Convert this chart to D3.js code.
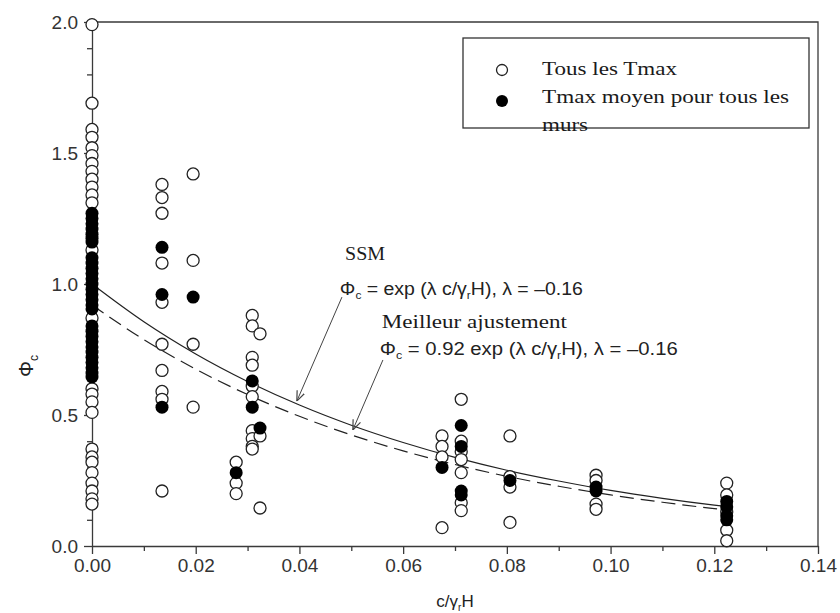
<!DOCTYPE html>
<html>
<head>
<meta charset="utf-8">
<script src="https://cdn.jsdelivr.net/npm/d3@7"></script>
<style>
  body { margin: 0; background: #fff; }
  svg { display: block; }
</style>
</head>
<body>
<div id="chart"></div>
<script>
// -------- data ------------------------------ //

// x position (c/γrH) of each group of walls
var columns = [0, 0.0135, 0.0195, 0.0278, 0.0309, 0.0324, 0.0675, 0.0712, 0.0806, 0.0972, 0.1224];

// all Tmax values (open circles), one list per column
var openValues = [
  [1.99, 1.69, 1.59, 1.56, 1.52, 1.49, 1.46, 1.43, 1.40, 1.37, 1.34, 1.31, 1.13, 0.87,
   0.60, 0.58, 0.55, 0.51, 0.37, 0.34, 0.32, 0.28, 0.24, 0.21, 0.18, 0.16],
  [1.38, 1.33, 1.27, 1.08, 0.93, 0.77, 0.67, 0.59, 0.56, 0.21],
  [1.42, 1.09, 0.77, 0.53],
  [0.32, 0.24, 0.20],
  [0.88, 0.84, 0.72, 0.69, 0.61, 0.57, 0.44, 0.41, 0.38, 0.37],
  [0.81, 0.42, 0.145],
  [0.42, 0.38, 0.34, 0.07],
  [0.56, 0.40, 0.36, 0.33, 0.28, 0.165, 0.135],
  [0.42, 0.265, 0.225, 0.09],
  [0.27, 0.25, 0.16, 0.14],
  [0.24, 0.195, 0.13, 0.06, 0.02]
];

// mean Tmax for each wall (filled circles)
var meanValues = [
  [1.27, 1.25, 1.23, 1.21, 1.19, 1.175, 1.16, 1.10, 1.08, 1.06, 1.04, 1.02, 1.00, 0.98,
   0.96, 0.94, 0.92, 0.905, 0.84, 0.82, 0.80, 0.78, 0.76, 0.74, 0.72, 0.70, 0.68, 0.66, 0.645],
  [1.14, 0.96, 0.53],
  [0.95],
  [0.28],
  [0.63, 0.53],
  [0.45],
  [0.30],
  [0.46, 0.38, 0.21, 0.195],
  [0.25],
  [0.225, 0.21],
  [0.17, 0.15, 0.115, 0.10]
];

// the two curves, read at regular steps of c/γrH
var curveX = [0, 0.01, 0.02, 0.03, 0.04, 0.05, 0.06, 0.07, 0.08, 0.09, 0.10, 0.11, 0.12, 0.123];
var ssmY = [1.00, 0.856, 0.733, 0.628, 0.538, 0.461, 0.395, 0.338, 0.289, 0.248, 0.212, 0.182, 0.156, 0.149];
var fitY = [0.92, 0.788, 0.675, 0.578, 0.495, 0.424, 0.363, 0.311, 0.266, 0.228, 0.195, 0.167, 0.143, 0.137];

var xTicks = [0, 0.02, 0.04, 0.06, 0.08, 0.10, 0.12, 0.14];
var yTicks = [0, 0.5, 1.0, 1.5, 2.0];

// -------- chart ---------- //

var margin = { top: 22, right: 22, bottom: 67, left: 92 };
var width = 840 - margin.left - margin.right;
var height = 613 - margin.top - margin.bottom;

var axisColor = "#3a3a3a";
var serif = "'Liberation Serif', 'Times New Roman', serif";
var sans = "'Liberation Sans', Arial, sans-serif";

var svg = d3
  .select("#chart")
  .append("svg")
  .attr("width", 840)
  .attr("height", 613);

var g = svg.append("g").attr("transform", "translate(" + margin.left + "," + margin.top + ")");

var x = d3.scaleLinear().domain([0, 0.14]).range([0, width]);
var y = d3.scaleLinear().domain([0, 2]).range([height, 0]);

// minor ticks first, so major ones sit on top
var xMinor = d3.range(0.01, 0.14, 0.02);
var yMinor = d3.range(0, 2.0001, 0.1).filter(function(v) {
  return Math.abs(v * 2 - Math.round(v * 2)) > 1e-6;
});

function styleAxis(sel) {
  sel.selectAll("path, line").attr("stroke", axisColor).attr("stroke-width", 1.3);
  sel.selectAll("text")
    .attr("fill", "#333")
    .style("font-family", sans)
    .style("font-size", "19px");
}

g.append("g")
  .attr("transform", "translate(0," + height + ")")
  .call(d3.axisBottom(x).tickValues(xMinor).tickSize(5).tickFormat(""))
  .call(styleAxis)
  .select(".domain").remove();

g.append("g")
  .call(d3.axisLeft(y).tickValues(yMinor).tickSize(5).tickFormat(""))
  .call(styleAxis)
  .select(".domain").remove();

g.append("g")
  .attr("transform", "translate(0," + height + ")")
  .call(d3.axisBottom(x).tickValues(xTicks).tickFormat(d3.format(".2f")).tickSize(8).tickSizeOuter(0).tickPadding(5))
  .call(styleAxis);

g.append("g")
  .call(d3.axisLeft(y).tickValues(yTicks).tickFormat(d3.format(".1f")).tickSize(8).tickSizeOuter(0).tickPadding(6))
  .call(styleAxis);

// top and right frame
g.append("path")
  .attr("d", d3.line()([[x(0), y(2)], [x(0.14), y(2)], [x(0.14), y(0)]]))
  .attr("fill", "none")
  .attr("stroke", axisColor)
  .attr("stroke-width", 1.3);

// curves
var line = d3.line()
  .x(function(d) { return x(d[0]); })
  .y(function(d) { return y(d[1]); })
  .curve(d3.curveMonotoneX);

g.append("path")
  .datum(d3.zip(curveX, ssmY))
  .attr("d", line)
  .attr("fill", "none")
  .attr("stroke", "#222")
  .attr("stroke-width", 1.2);

g.append("path")
  .datum(d3.zip(curveX, fitY))
  .attr("d", line)
  .attr("fill", "none")
  .attr("stroke", "#222")
  .attr("stroke-width", 1.2)
  .attr("stroke-dasharray", "14,7");

// points
var openPts = [];
var meanPts = [];
columns.forEach(function(cx, i) {
  openValues[i].forEach(function(v) { openPts.push([cx, v]); });
  meanValues[i].forEach(function(v) { meanPts.push([cx, v]); });
});

g.append("g")
  .selectAll("circle")
  .data(openPts)
  .join("circle")
  .attr("cx", function(d) { return x(d[0]); })
  .attr("cy", function(d) { return y(d[1]); })
  .attr("r", 6)
  .attr("fill", "#fff")
  .attr("stroke", "#222")
  .attr("stroke-width", 1.3);

g.append("g")
  .selectAll("circle")
  .data(meanPts)
  .join("circle")
  .attr("cx", function(d) { return x(d[0]); })
  .attr("cy", function(d) { return y(d[1]); })
  .attr("r", 6.5)
  .attr("fill", "#000");

// arrows (in data units: start, head)
var arrows = [
  [[0.0482, 0.95], [0.0395, 0.553]],
  [[0.0561, 0.71], [0.0503, 0.443]]
];

svg.append("defs")
  .append("marker")
  .attr("id", "head")
  .attr("viewBox", "0 0 10 10")
  .attr("refX", 10)
  .attr("refY", 5)
  .attr("markerWidth", 10)
  .attr("markerHeight", 10)
  .attr("markerUnits", "userSpaceOnUse")
  .attr("orient", "auto")
  .append("path")
  .attr("d", "M0,1 L10,5 L0,9")
  .attr("fill", "none")
  .attr("stroke", "#444")
  .attr("stroke-width", 1.2);

g.append("g")
  .selectAll("line")
  .data(arrows)
  .join("line")
  .attr("x1", function(d) { return x(d[0][0]); })
  .attr("y1", function(d) { return y(d[0][1]); })
  .attr("x2", function(d) { return x(d[1][0]); })
  .attr("y2", function(d) { return y(d[1][1]); })
  .attr("stroke", "#444")
  .attr("stroke-width", 1)
  .attr("marker-end", "url(#head)");

// annotations
function serifLabel(px, py, txt, len) {
  g.append("text")
    .attr("x", px)
    .attr("y", py)
    .attr("textLength", len)
    .attr("lengthAdjust", "spacingAndGlyphs")
    .style("font-family", serif)
    .style("font-size", "18px")
    .attr("fill", "#1a1a1a")
    .text(txt);
}

function formula(px, py, coef, len) {
  var t = g.append("text")
    .attr("x", px)
    .attr("y", py)
    .attr("textLength", len)
    .attr("lengthAdjust", "spacingAndGlyphs")
    .style("font-family", sans)
    .style("font-size", "18px")
    .attr("fill", "#222");
  t.append("tspan").text("Φ");
  t.append("tspan").attr("dy", 4).style("font-size", "11px").text("c");
  t.append("tspan").attr("dy", -4).text(" = " + coef + "exp (λ c/γ");
  t.append("tspan").attr("dy", 4).style("font-size", "11px").text("r");
  t.append("tspan").attr("dy", -4).text("H), λ = –0.16");
}

serifLabel(x(0.0488), y(1.092), "SSM", 40);
formula(x(0.0478), y(0.958), "", 243);
serifLabel(x(0.0559), y(0.832), "Meilleur ajustement", 185);
formula(x(0.0555), y(0.729), "0.92 ", 298);

// legend
var legend = svg.append("g");
legend.append("rect")
  .attr("x", 463)
  .attr("y", 38)
  .attr("width", 346)
  .attr("height", 90)
  .attr("fill", "#fff")
  .attr("stroke", "#333")
  .attr("stroke-width", 1.3);

legend.append("circle")
  .attr("cx", 502).attr("cy", 70).attr("r", 5.5)
  .attr("fill", "#fff").attr("stroke", "#222").attr("stroke-width", 1.3);
legend.append("circle")
  .attr("cx", 502).attr("cy", 101).attr("r", 6)
  .attr("fill", "#000");

var legendText = [
  ["Tous les Tmax", 75, 135],
  ["Tmax moyen pour tous les", 103, 247],
  ["murs", 131, 46]
];
legend.selectAll("text")
  .data(legendText)
  .join("text")
  .attr("x", 542)
  .attr("y", function(d) { return d[1]; })
  .attr("textLength", function(d) { return d[2]; })
  .attr("lengthAdjust", "spacingAndGlyphs")
  .style("font-family", serif)
  .style("font-size", "19px")
  .attr("fill", "#1a1a1a")
  .text(function(d) { return d[0]; });

// axis titles
var xt = svg.append("text")
  .attr("x", margin.left + width / 2)
  .attr("y", 607)
  .attr("text-anchor", "middle")
  .style("font-family", sans)
  .style("font-size", "17px")
  .attr("fill", "#222");
xt.append("tspan").text("c/γ");
xt.append("tspan").attr("dy", 4).style("font-size", "10px").text("r");
xt.append("tspan").attr("dy", -4).text("H");

var yt = svg.append("text")
  .attr("transform", "translate(33,366) rotate(-90)")
  .attr("text-anchor", "middle")
  .style("font-family", sans)
  .style("font-size", "20px")
  .attr("fill", "#222");
yt.append("tspan").text("Φ");
yt.append("tspan").attr("dy", 5).style("font-size", "12px").text("c");
</script>
</body>
</html>
